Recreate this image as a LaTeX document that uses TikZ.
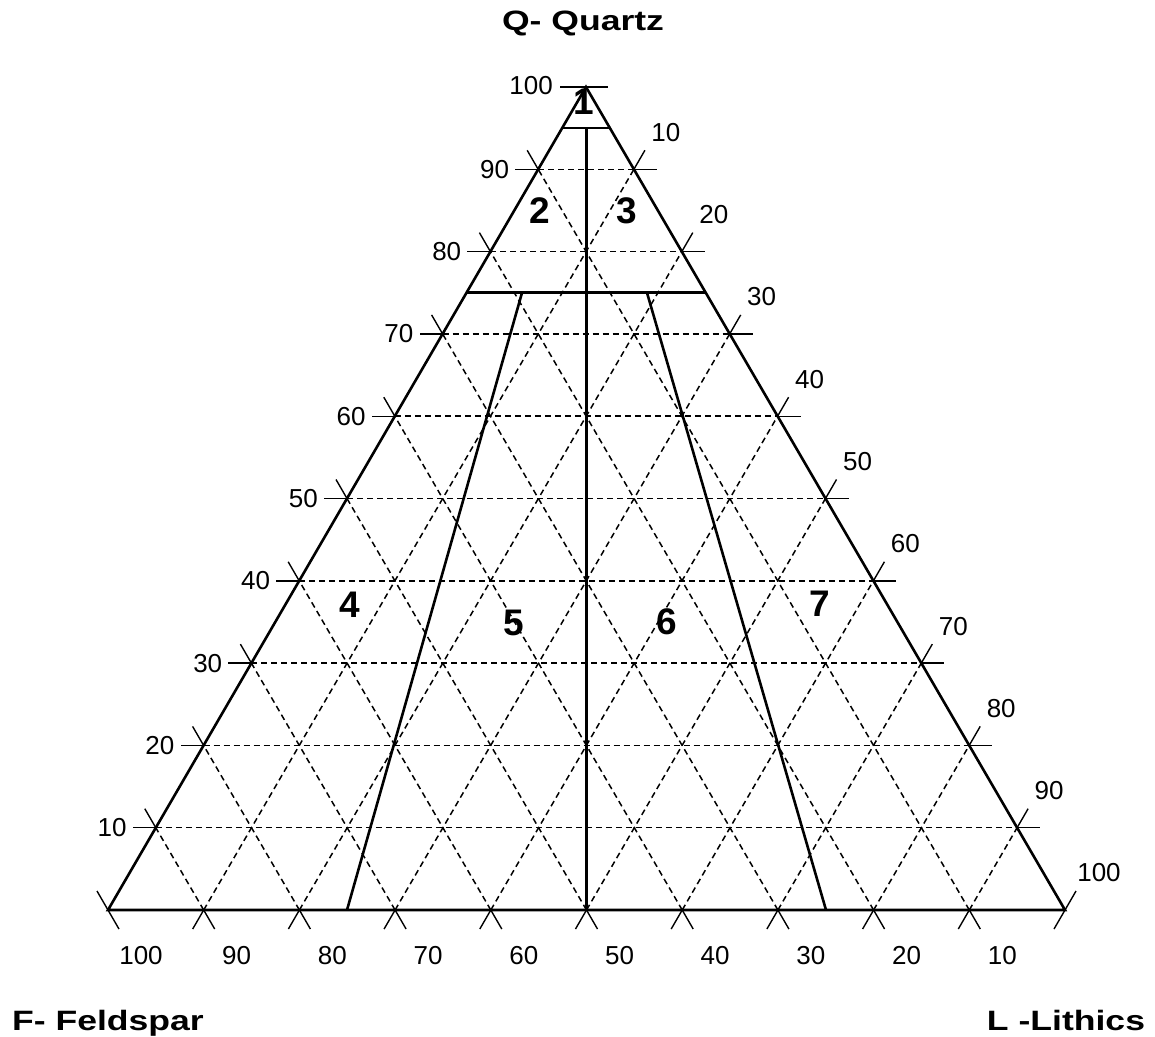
\documentclass[tikz,border=0pt]{standalone}
\usepackage{fontspec}
\setmainfont{Liberation Sans}
\usetikzlibrary{calc}
\begin{document}
\begin{tikzpicture}[x=1pt,y=-1pt,
  edge/.style={line width=2.6pt, line join=miter},
  classline/.style={line width=2.6pt},
  gridline/.style={line width=1.5pt, dash pattern=on 6pt off 4pt},
  tickline/.style={line width=1.4pt},
  num/.style={font=\fontsize{26}{30}\selectfont, inner sep=0pt},
  region/.style={font=\fontsize{37}{42}\selectfont\bfseries, inner sep=0pt},
  title/.style={font=\fontsize{28}{32}\selectfont\bfseries, inner sep=0pt, anchor=base}]
\path[use as bounding box] (0,0) rectangle (1155,1036);
\coordinate (F) at (108,910);
\coordinate (L) at (1065,910);
\coordinate (Q) at (586,87);
\foreach \k in {1,...,9} {
  \pgfmathsetmacro\t{\k/10}
  \coordinate (PL\k) at ($(F)!\t!(Q)$);
  \coordinate (PR\k) at ($(L)!\t!(Q)$);
  \coordinate (RE\k) at ($(Q)!\t!(L)$);
  \coordinate (B\k) at ($(F)!\t!(L)$);
}
% dashed grid
\foreach \k in {1,...,9} {
  \draw[gridline] (PL\k) -- (PR\k);
  \draw[gridline] (B\k) -- (PL\k);
  \draw[gridline] (B\k) -- (RE\k);
}
% ticks and labels
\foreach \k in {1,...,9} {
  \pgfmathtruncatemacro\v{\k*10}
  \pgfmathtruncatemacro\w{100-\k*10}
  \draw[tickline] (PL\k) -- ++(-23,0);
  \draw[tickline] (PL\k) -- ++(-11,-19);
  \draw[tickline] (RE\k) -- ++(23,0);
  \draw[tickline] (RE\k) -- ++(11,-19);
  \draw[tickline] (B\k) -- ++(-11,19);
  \draw[tickline] (B\k) -- ++(11,19);
  \node[num, anchor=east] (ll\k) at ($(PL\k)+(-29,0)$) {\v};
  \node[num] (rl\k) at ($(RE\k)+(32,-37)$) {\v};
  \node[num] (bl\k) at ($(B\k)+(33,46)$) {\w};
}
% corner ticks
\draw[tickline] ($(Q)+(-26,0)$) -- ($(Q)+(22,0)$);
\draw[tickline] ($(F)+(-11,-19)$) -- ($(F)+(11,19)$);
\draw[tickline] ($(L)+(-11,19)$) -- ($(L)+(11,-19)$);
\node[num, anchor=east] (lq) at ($(Q)+(-33,-1)$) {100};
\node[num] (rl10) at ($(L)+(34,-37)$) {100};
\node[num] (bl0) at ($(F)+(33,46)$) {100};
% triangle
\draw[edge] (F) -- (L) -- (Q) -- cycle;
% classification lines
\coordinate (q95l) at ($(F)!0.95!(Q)$);
\coordinate (q95r) at ($(L)!0.95!(Q)$);
\coordinate (q75l) at ($(F)!0.75!(Q)$);
\coordinate (q75r) at ($(L)!0.75!(Q)$);
\coordinate (M) at ($(F)!0.5!(L)$);
\coordinate (s1t) at (522,292.75);
\coordinate (s1b) at (347,910);
\coordinate (s2t) at (647,292.75);
\coordinate (s2b) at (826,910);
\draw[classline] (q95l) -- (q95r);
\draw[classline] (q75l) -- (q75r);
\draw[classline] (M |- q95l) -- (M);
\draw[classline] (s1t) -- (s1b);
\draw[classline] (s2t) -- (s2b);
% region labels
\node[region] (r1) at (584,102) {1};
\node[region] (r2) at (540,211) {2};
\node[region] (r3) at (627,211) {3};
\node[region] (r4) at (350,605) {4};
\node[region] (r5) at (514,623) {5};
\node[region] (r6) at (667,622) {6};
\node[region] (r7) at (820,604) {7};
% titles
\node[title] (tq) at (583,30) {\scalebox{1.27}[1]{Q- Quartz}};
\node[title] (tf) at (108,1030) {\scalebox{1.27}[1]{F- Feldspar}};
\node[title] (tl) at (1066,1030) {\scalebox{1.27}[1]{L -Lithics}};
\end{tikzpicture}
\end{document}
